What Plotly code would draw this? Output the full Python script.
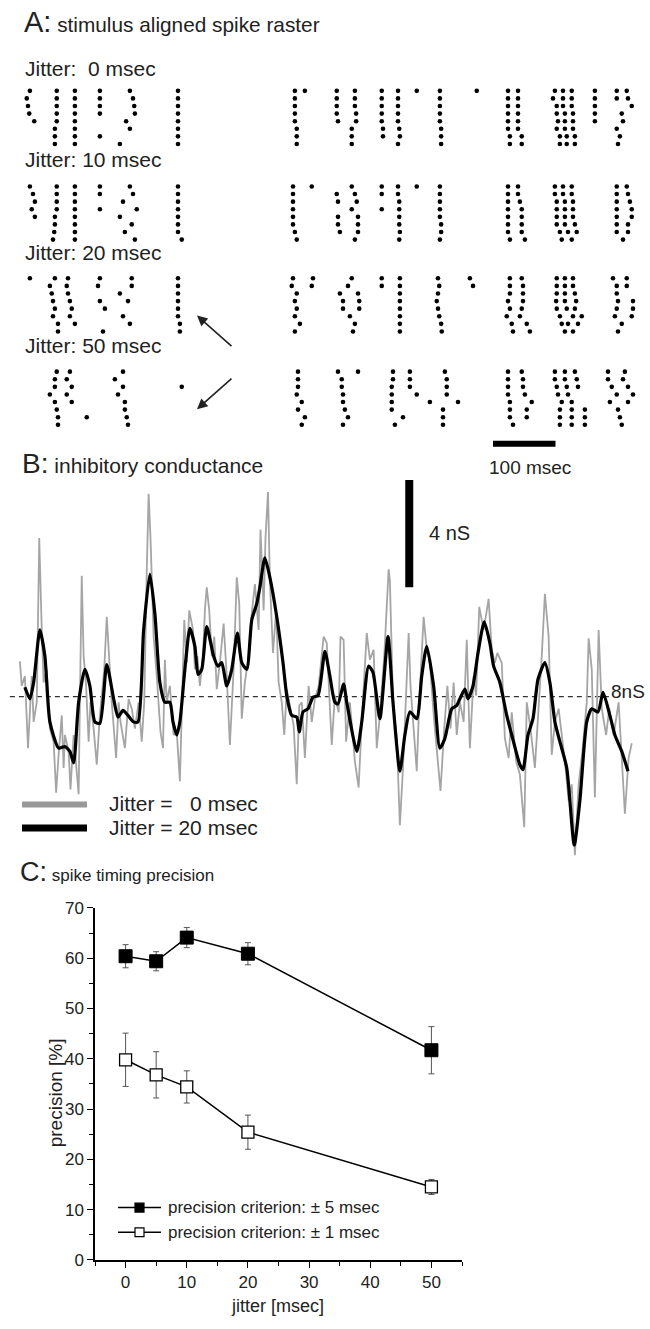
import plotly.graph_objects as go

# ---------------- Panel A: spike raster (spike times in ms, 8 trials per jitter condition)
raster_j0 = [
    [3, 46, 75, 115, 163, 240, 427, 443, 494, 523, 566, 592, 622, 659, 718, 768, 784, 843, 856, 870, 907, 942, 958],
    [-2, 46, 75, 115, 168, 240, 427, 494, 523, 566, 592, 659, 768, 784, 840, 856, 870, 907, 942, 960],
    [0, 46, 75, 115, 170, 240, 427, 494, 523, 566, 592, 659, 768, 784, 846, 856, 870, 907, 966],
    [2, 46, 75, 115, 171, 240, 427, 494, 525, 566, 592, 659, 768, 784, 846, 859, 872, 907, 950],
    [10, 46, 75, 157, 240, 427, 496, 525, 566, 592, 659, 768, 784, 848, 859, 872, 907, 952],
    [43, 75, 163, 240, 430, 518, 568, 594, 661, 768, 784, 846, 859, 872, 942],
    [43, 75, 115, 240, 430, 518, 568, 595, 661, 771, 790, 851, 862, 875, 947],
    [43, 75, 147, 240, 430, 518, 592, 661, 771, 790, 851, 862, 875, 944],
]
raster_j10 = [
    [3, 46, 75, 115, 163, 240, 424, 454, 518, 566, 592, 622, 659, 768, 784, 843, 856, 870, 942, 958],
    [8, 46, 75, 115, 168, 240, 424, 494, 523, 566, 592, 659, 768, 784, 843, 856, 870, 942, 960],
    [11, 46, 75, 152, 240, 424, 496, 526, 594, 659, 768, 787, 846, 859, 872, 942, 963],
    [6, 46, 75, 115, 174, 240, 424, 518, 566, 594, 659, 768, 790, 846, 859, 872, 942, 966],
    [11, 43, 75, 147, 240, 424, 496, 528, 594, 659, 768, 790, 846, 859, 872, 942, 966],
    [43, 75, 166, 240, 424, 496, 528, 594, 661, 768, 790, 846, 859, 875, 942, 960],
    [42, 75, 155, 240, 427, 499, 528, 595, 661, 768, 790, 851, 864, 878, 942, 960],
    [40, 75, 171, 246, 430, 523, 594, 659, 771, 795, 854, 870, 952],
]
raster_j20 = [
    [3, 43, 64, 115, 166, 240, 424, 456, 518, 566, 595, 656, 707, 771, 790, 846, 859, 872, 936, 958],
    [35, 62, 112, 166, 240, 422, 454, 512, 566, 595, 658, 712, 771, 792, 846, 859, 872, 942, 958],
    [38, 64, 147, 240, 430, 499, 528, 595, 656, 771, 792, 846, 859, 875, 942],
    [40, 67, 115, 160, 240, 427, 504, 530, 595, 654, 768, 792, 845, 859, 877, 944, 968],
    [43, 70, 123, 240, 430, 504, 530, 595, 656, 771, 790, 846, 862, 875, 942, 968],
    [40, 67, 152, 240, 427, 515, 595, 658, 766, 787, 851, 872, 886, 939, 966],
    [48, 75, 163, 243, 435, 523, 595, 661, 774, 798, 854, 864, 880, 950],
    [48, 120, 243, 427, 520, 595, 662, 776, 803, 859, 872, 944],
]
raster_j50 = [
    [46, 67, 152, 432, 496, 528, 584, 611, 667, 768, 790, 843, 859, 875, 928, 955],
    [43, 62, 139, 432, 502, 584, 611, 670, 768, 792, 843, 859, 878, 928, 952],
    [43, 70, 152, 246, 432, 502, 582, 611, 670, 768, 792, 846, 862, 880, 934, 960],
    [35, 62, 144, 430, 504, 582, 622, 670, 768, 795, 848, 864, 942, 968],
    [43, 70, 155, 438, 504, 582, 643, 688, 771, 806, 854, 870, 931, 960],
    [46, 155, 432, 507, 582, 664, 771, 798, 851, 870, 891, 944],
    [48, 94, 158, 443, 512, 600, 664, 771, 798, 851, 870, 891, 947],
    [48, 160, 438, 504, 587, 664, 776, 851, 870, 891, 950],
]
jitter_labels = ["Jitter:  0 msec", "Jitter: 10 msec", "Jitter: 20 msec", "Jitter: 50 msec"]

# ---------------- Panel B: inhibitory conductance traces (time ms, conductance nS)
jit0_t = [-13, -10, -5, 0, 6, 9, 14, 18, 22, 25, 30, 35, 41, 45, 49, 54, 57, 59, 65, 68, 73, 77, 81, 83, 86, 89,
          93, 97, 100, 105, 110, 115, 122, 126, 130, 134, 141, 145, 148, 155, 161, 166, 171, 177, 182, 186, 190,
          193, 196, 201, 206, 212, 216, 219, 222, 227, 233, 238, 243, 248, 250, 254, 258, 264, 267, 271, 275, 280,
          283, 286, 290, 294, 298, 302, 307, 313, 318, 323, 329, 334, 338, 342, 347, 353, 358, 363, 369, 372, 377,
          380, 384, 387, 392, 397, 401, 406, 410, 414, 419, 425, 430, 434, 438, 443, 449, 454, 459, 465, 472, 473,
          478, 486, 491, 497, 500, 505, 509, 515, 523, 529, 534, 542, 547, 553, 558, 563, 570, 574, 577, 579, 584,
          590, 595, 600, 603, 609, 612, 618, 622, 626, 633, 637, 643, 650, 655, 660, 666, 671, 676, 681, 686, 691,
          697, 702, 707, 713, 717, 722, 729, 737, 742, 747, 751, 758, 763, 769, 774, 781, 787, 794, 798, 804, 811,
          817, 822, 827, 833, 838, 843, 849, 854, 859, 865, 870, 875, 881, 887, 894, 897, 902, 907, 913, 918, 925,
          930, 937, 945, 950, 955, 961, 966]
jit0_g = [9.32, 8.40, 8.77, 6.08, 8.77, 7.06, 7.79, 13.92, 10.49, 8.53, 9.02, 6.81, 6.32, 4.42, 5.83, 7.30, 5.34,
          6.57, 5.95, 4.54, 6.57, 5.34, 4.36, 7.79, 12.51, 9.51, 8.40, 6.32, 7.79, 6.81, 5.46, 7.30, 9.02, 10.98,
          9.51, 7.79, 5.71, 7.79, 7.06, 6.08, 7.91, 7.55, 6.81, 7.79, 6.32, 7.79, 12.69, 15.57, 13.92, 10.24, 8.77,
          6.69, 6.08, 9.38, 7.79, 8.40, 6.57, 6.69, 4.85, 9.02, 10.86, 9.26, 11.22, 10.49, 9.02, 9.51, 8.40, 9.51,
          11.22, 12.08, 11.22, 9.51, 10.24, 8.28, 9.26, 10.73, 8.77, 6.20, 9.02, 12.45, 11.47, 7.18, 8.53, 9.51,
          11.10, 12.20, 10.49, 14.23, 11.22, 13.92, 15.63, 12.33, 9.63, 11.22, 8.53, 7.79, 6.57, 8.28, 7.67, 6.93,
          4.73, 7.67, 7.79, 5.71, 8.40, 7.06, 7.91, 8.40, 10.00, 10.24, 10.00, 6.20, 8.04, 7.42, 10.24, 10.12, 6.32,
          7.79, 5.59, 4.61, 7.06, 10.37, 9.38, 9.75, 6.08, 7.30, 9.51, 11.71, 12.75, 12.33, 7.79, 6.44, 3.20, 5.34,
          7.18, 10.37, 8.40, 6.57, 5.22, 7.79, 10.98, 10.00, 9.26, 7.06, 5.83, 4.48, 6.81, 8.40, 6.81, 8.53, 6.57,
          7.79, 7.06, 10.12, 6.08, 8.77, 8.04, 11.35, 10.49, 11.65, 9.75, 9.26, 9.63, 9.26, 6.44, 5.71, 7.42, 5.59,
          5.10, 3.13, 7.79, 6.81, 5.34, 7.55, 9.51, 11.84, 10.24, 5.83, 7.06, 7.55, 6.57, 5.59, 4.12, 4.73, 2.09,
          4.73, 5.95, 7.79, 10.18, 9.02, 4.24, 10.49, 7.55, 6.57, 7.55, 6.57, 7.79, 5.46, 3.63, 5.71, 6.26]
jit20_t = [-5, 3, 9, 19, 27, 35, 49, 59, 67, 73, 81, 91, 99, 107, 115, 126, 137, 144, 152, 160, 169, 176, 185, 195,
           203, 211, 219, 227, 232, 238, 243, 251, 259, 267, 272, 278, 286, 297, 304, 310, 318, 326, 335, 342, 350,
           358, 366, 371, 379, 387, 398, 408, 414, 422, 430, 434, 440, 448, 456, 464, 475, 483, 491, 496, 505, 510,
           526, 534, 545, 552, 563, 576, 584, 595, 603, 611, 622, 630, 638, 649, 659, 667, 678, 686, 691, 699, 704,
           712, 720, 730, 739, 745, 755, 766, 774, 787, 792, 800, 808, 816, 827, 835, 843, 851, 862, 874, 883, 894,
           902, 912, 920, 931, 939, 950, 960]
jit20_g = [8.35, 7.92, 8.53, 10.49, 9.51, 7.06, 6.08, 6.14, 5.96, 5.53, 7.79, 9.02, 8.40, 7.06, 7.00, 9.20, 7.92,
           7.24, 7.49, 7.30, 7.06, 7.06, 10.49, 12.57, 11.10, 8.53, 7.79, 7.79, 7.06, 6.57, 7.06, 9.02, 10.55, 9.88,
           8.83, 9.02, 10.61, 9.51, 9.14, 9.27, 8.40, 9.02, 10.37, 9.27, 9.02, 10.86, 11.47, 12.08, 13.18, 12.45,
           10.98, 9.27, 8.04, 7.30, 7.24, 6.69, 7.43, 7.55, 7.98, 8.04, 9.69, 8.77, 7.79, 7.73, 8.47, 7.79, 5.96,
           7.06, 9.14, 8.90, 7.18, 10.24, 7.79, 5.22, 6.57, 7.43, 7.18, 8.77, 9.88, 8.40, 6.08, 6.44, 7.55, 7.67,
           7.92, 8.28, 7.92, 8.40, 9.63, 10.79, 10.00, 9.14, 8.53, 7.30, 6.57, 5.46, 5.28, 6.57, 7.18, 8.65, 9.27,
           8.53, 7.06, 6.32, 5.34, 2.46, 4.12, 7.06, 7.55, 7.43, 8.16, 7.30, 6.57, 5.96, 5.22]
baseline_nS = 8

# ---------------- Panel C: spike timing precision
jitter = [0, 5, 10, 20, 50]
prec_5ms = [60.4, 59.4, 64.1, 60.9, 41.7]
err_5ms = [2.3, 1.9, 2.0, 2.2, 4.7]
prec_1ms = [39.8, 36.8, 34.4, 25.4, 14.5]
err_1ms = [5.3, 4.6, 3.2, 3.4, 1.5]
legend_names = ["precision criterion: \u00b1 5 msec", "precision criterion: \u00b1 1 msec"]
x_ticks = [0, 10, 20, 30, 40, 50]
y_ticks = [0, 10, 20, 30, 40, 50, 60, 70]

W, H = 650, 1329
FONT = "Liberation Sans, Arial, sans-serif"
TXT = "#222"


def py(px):
    return 1 - px / H


def pxx(px):
    return px / W


fig = go.Figure()

# ---- Panel A raster
block_offset = [0, 12.6, 24.7, 37.0]
rx, ry = [], []
for k, trials in enumerate([raster_j0, raster_j10, raster_j20, raster_j50]):
    for i, spikes in enumerate(trials):
        rx += spikes
        ry += [block_offset[k] + i] * len(spikes)
fig.add_trace(go.Scatter(x=rx, y=ry, mode="markers", xaxis="x3", yaxis="y3",
                         marker=dict(symbol="circle", size=4.6, color="black"),
                         showlegend=False, hoverinfo="skip"))

# ---- Panel B traces
fig.add_trace(go.Scatter(x=jit0_t, y=jit0_g, mode="lines", xaxis="x2", yaxis="y2",
                         line=dict(color="#a5a5a5", width=1.8), showlegend=False, hoverinfo="skip"))
fig.add_trace(go.Scatter(x=jit20_t, y=jit20_g, mode="lines", xaxis="x2", yaxis="y2",
                         line=dict(color="black", width=3.2, shape="spline", smoothing=0.6),
                         showlegend=False, hoverinfo="skip"))

# ---- Panel C
fig.add_trace(go.Scatter(x=jitter, y=prec_5ms, mode="lines+markers", name=legend_names[0],
                         error_y=dict(type="data", array=err_5ms, color="#555", thickness=1, width=3),
                         line=dict(color="black", width=1.5),
                         marker=dict(symbol="square", size=13, color="black", line=dict(color="black", width=1)),
                         showlegend=False))
fig.add_trace(go.Scatter(x=jitter, y=prec_1ms, mode="lines+markers", name=legend_names[1],
                         error_y=dict(type="data", array=err_1ms, color="#555", thickness=1, width=3),
                         line=dict(color="black", width=1.5),
                         marker=dict(symbol="square", size=12, color="white", line=dict(color="black", width=1.3)),
                         showlegend=False))

t_range = [-44.8, 995.2]
y2_range = [2.03, 16.37]
y3_range = [46.36, -2.99]

axis_common = dict(showgrid=False, zeroline=False)
fig.update_layout(
    width=W, height=H, margin=dict(l=0, r=0, t=0, b=0),
    paper_bgcolor="white", plot_bgcolor="white",
    font=dict(family=FONT, color=TXT),
    showlegend=False,
    xaxis=dict(domain=[pxx(95), pxx(462)], range=[-5, 55], **axis_common,
               showline=True, linecolor="black", linewidth=1.5,
               ticks="outside", ticklen=6, tickwidth=1.3, tickcolor="black",
               tickvals=x_ticks, tickfont=dict(size=17, color=TXT, family=FONT),
               minor=dict(dtick=5, tick0=0, ticks="outside", ticklen=4, tickcolor="black", tickwidth=1.1)),
    yaxis=dict(domain=[py(1269), py(912)], range=[0, 70], **axis_common,
               showline=True, linecolor="black", linewidth=1.5,
               ticks="outside", ticklen=6, tickwidth=1.3, tickcolor="black",
               tickvals=y_ticks, tickfont=dict(size=17, color=TXT, family=FONT),
               minor=dict(dtick=5, tick0=0, ticks="outside", ticklen=4, tickcolor="black", tickwidth=1.1)),
    xaxis2=dict(domain=[0, 1], range=t_range, visible=False, anchor="y2", **axis_common),
    yaxis2=dict(domain=[py(860), py(470)], range=y2_range, visible=False, anchor="x2", **axis_common),
    xaxis3=dict(domain=[0, 1], range=t_range, visible=False, anchor="y3", **axis_common),
    yaxis3=dict(domain=[py(440), py(60)], range=y3_range, visible=False, anchor="x3", **axis_common),
)

shapes = []
# 100 msec scale bar (panel A)
shapes.append(dict(type="line", xref="x3", yref="paper", x0=744, x1=844, y0=py(441), y1=py(441),
                   line=dict(color="black", width=6)))
# 4 nS scale bar (panel B)
shapes.append(dict(type="line", xref="x2", yref="y2", x0=610, x1=610, y0=12.08, y1=16.08,
                   line=dict(color="black", width=8)))
# 8 nS dashed baseline
shapes.append(dict(type="line", xref="x2", yref="y2", x0=-29, x1=931, y0=baseline_nS, y1=baseline_nS,
                   line=dict(color="#333", width=1.2, dash="5px,4px"), layer="below"))
# panel B legend bars
shapes.append(dict(type="line", xref="paper", yref="paper", x0=pxx(22), x1=pxx(87), y0=py(807), y1=py(807),
                   line=dict(color="#999", width=6)))
shapes.append(dict(type="line", xref="paper", yref="paper", x0=pxx(22), x1=pxx(87), y0=py(831), y1=py(831),
                   line=dict(color="black", width=7)))
# panel C legend symbols
for yy, fill in [(1216, "black"), (1241, "white")]:
    shapes.append(dict(type="line", xref="paper", yref="paper", x0=pxx(118), x1=pxx(161), y0=py(yy), y1=py(yy),
                       line=dict(color="black", width=1.5)))
    shapes.append(dict(type="rect", xref="paper", yref="paper", x0=pxx(135), x1=pxx(144), y0=py(yy + 4.5),
                       y1=py(yy - 4.5), fillcolor=fill, line=dict(color="black", width=1.2)))
fig.update_layout(shapes=shapes)

ann = []


def text(x, y, s, size, anchor="left", yanchor="middle", angle=0):
    ann.append(dict(x=pxx(x), y=py(y), xref="paper", yref="paper", text=s, showarrow=False,
                    xanchor=anchor, yanchor=yanchor, textangle=angle,
                    font=dict(size=size, family=FONT, color=TXT)))


text(22, 13, "<span style='font-size:29px'>A:</span> stimulus aligned spike raster", 20.8)
for lbl, yy in zip(jitter_labels, [60, 153, 247, 341]):
    text(23, yy, lbl.replace("  ", "\u00a0\u00a0"), 21)
text(530, 465, "100 msec", 19, anchor="center")
text(20, 461, "<span style='font-size:28px'>B:</span> inhibitory conductance", 21)
text(427, 532, "4 nS", 20)
text(609, 692, "8nS", 19)
text(107, 806, "Jitter = \u20070 msec", 21)
text(107, 830, "Jitter = 20 msec", 21)
text(18, 876, "<span style='font-size:27px'>C:</span> spike timing precision", 17)
text(55, 1100, "precision [%]", 19, anchor="center", angle=-90)
text(277, 1316, "jitter [msec]", 18, anchor="center")
text(166, 1216, legend_names[0], 17)
text(166, 1241, legend_names[1], 17)

# arrows in panel A
ann.append(dict(x=pxx(197), y=py(311), xref="paper", yref="paper", ax=36, ay=32, text="",
                showarrow=True, arrowhead=2, arrowsize=1.3, arrowwidth=1.6, arrowcolor="#222"))
ann.append(dict(x=pxx(197), y=py(406), xref="paper", yref="paper", ax=36, ay=-32, text="",
                showarrow=True, arrowhead=2, arrowsize=1.3, arrowwidth=1.6, arrowcolor="#222"))
fig.update_layout(annotations=ann)

fig.write_html("out.html", config={"displayModeBar": False},
               post_script="document.body.style.margin='0';document.body.style.overflow='hidden';")
